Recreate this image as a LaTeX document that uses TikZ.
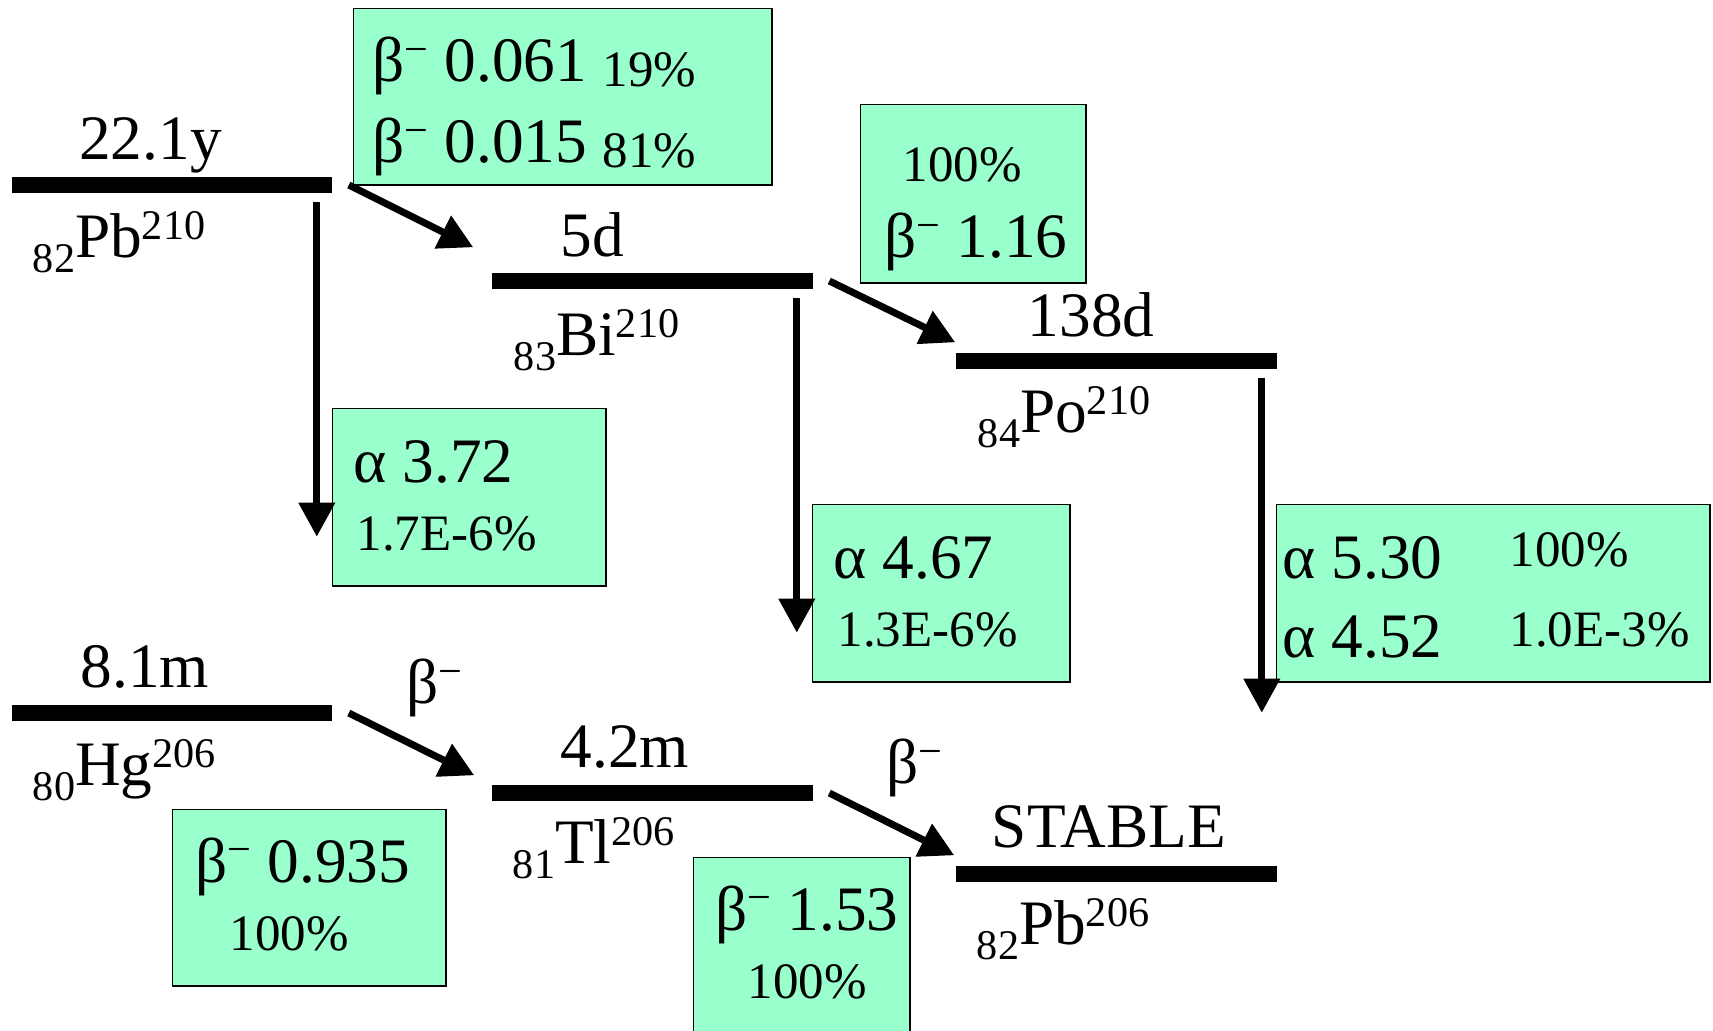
\documentclass[tikz,border=0pt]{standalone}
\usepackage{fontspec}
\setmainfont{Liberation Serif}
\usetikzlibrary{arrows.meta,calc}
\definecolor{mint}{RGB}{153,255,204}
\newcommand\bigfont{\fontsize{18}{21}\selectfont}
\newcommand\smallfont{\fontsize{14.5}{17}\selectfont}
\newcommand\subfont{\fontsize{12}{14}\selectfont}
\newcommand\betam{β\raisebox{5.2pt}{\subfont −}}
\newcommand\nuc[3]{\raisebox{-4.3pt}{\subfont #1}#2\raisebox{5.1pt}{\subfont #3}}

\begin{document}
\begin{tikzpicture}[x=0.01cm, y=0.01cm,
    level/.style={fill=black, inner sep=0pt, minimum width=3.2cm, minimum height=0.16cm},
    decay/.style={-{Triangle[length=0.34cm,width=0.35cm]}, line width=2pt},
    infobox/.style={draw, line width=0.4pt, fill=mint, inner sep=0pt, anchor=north west},
    big/.style={font=\bigfont, inner sep=0pt},
    small/.style={font=\smallfont, inner sep=0pt},
    declab/.style={midway, anchor=base west, xshift=-0.087cm, yshift=0.405cm, font=\bigfont, inner sep=0pt}]
    \useasboundingbox (0,0) rectangle (1713,1030);
    \clip (0,0) rectangle (1713,1030);

    % energy levels
    \node[level] (pbA) at (172,845) {};
    \node[level] (bi) at (652.5,749) {};
    \node[level] (po) at (1116.5,669) {};
    \node[level] (hg) at (172,317) {};
    \node[level] (tl) at (652.5,237) {};
    \node[level] (pbB) at (1116.5,156.5) {};

    % half lives
    \node[big, anchor=base] (tpbA) at ([shift={(-21.5,17)}]pbA.north) {22.1y};
    \node[big, anchor=base] (tbi) at ([shift={(-60.5,16)}]bi.north) {5d};
    \node[big, anchor=base] (tpo) at ([shift={(-25.5,16)}]po.north) {138d};
    \node[big, anchor=base] (thg) at ([shift={(-27,17)}]hg.north) {8.1m};
    \node[big, anchor=base] (ttl) at ([shift={(-27.5,17)}]tl.north) {4.2m};
    \node[big, anchor=base] (tpbB) at ([shift={(-7.5,17.5)}]pbB.north) {STABLE};

    % nuclides
    \node[big, anchor=base west] (npbA) at ([shift={(21,-64)}]pbA.south west) {\nuc{82}{Pb}{210}};
    \node[big, anchor=base west] (nbi) at ([shift={(21.5,-66)}]bi.south west) {\nuc{83}{Bi}{210}};
    \node[big, anchor=base west] (npo) at ([shift={(21.5,-63)}]po.south west) {\nuc{84}{Po}{210}};
    \node[big, anchor=base west] (nhg) at ([shift={(21,-64)}]hg.south west) {\nuc{80}{Hg}{206}};
    \node[big, anchor=base west] (ntl) at ([shift={(20.5,-62)}]tl.south west) {\nuc{81}{Tl}{206}};
    \node[big, anchor=base west] (npbB) at ([shift={(20.5,-62.5)}]pbB.south west) {\nuc{82}{Pb}{206}};

    % decay boxes
    \node[infobox, minimum width=4.18cm, minimum height=1.76cm] (b1) at (353,1022) {};
    \node[big, anchor=base west] (b1a) at ([shift={(19,-74)}]b1.north west) {\betam{} 0.061 \raisebox{-1.2pt}{\smallfont 19\%}};
    \node[big, anchor=base west] (b1b) at ([shift={(19,-155)}]b1.north west) {\betam{} 0.015 \raisebox{-1.2pt}{\smallfont 81\%}};

    \node[infobox, minimum width=2.25cm, minimum height=1.78cm] (b2) at (860,926) {};
    \node[small, anchor=base west] (b2a) at ([shift={(42,-78)}]b2.north west) {100\%};
    \node[big, anchor=base west] (b2b) at ([shift={(24,-154)}]b2.north west) {\betam{} 1.16};

    \node[infobox, minimum width=2.73cm, minimum height=1.77cm] (b3) at (332,622) {};
    \node[big, anchor=base west] (b3a) at ([shift={(21,-75)}]b3.north west) {α 3.72};
    \node[small, anchor=base west] (b3b) at ([shift={(24,-143)}]b3.north west) {1.7E-6\%};

    \node[infobox, minimum width=2.57cm, minimum height=1.77cm] (b4) at (812,526) {};
    \node[big, anchor=base west] (b4a) at ([shift={(21,-74)}]b4.north west) {α 4.67};
    \node[small, anchor=base west] (b4b) at ([shift={(25,-142)}]b4.north west) {1.3E-6\%};

    \node[infobox, minimum width=4.33cm, minimum height=1.77cm] (b5) at (1276,526) {};
    \node[big, anchor=base west] (b5a) at ([shift={(6,-74)}]b5.north west) {α 5.30};
    \node[small, anchor=base west] (b5b) at ([shift={(233,-62)}]b5.north west) {100\%};
    \node[big, anchor=base west] (b5c) at ([shift={(6,-153)}]b5.north west) {α 4.52};
    \node[small, anchor=base west] (b5d) at ([shift={(233,-142)}]b5.north west) {1.0E-3\%};

    \node[infobox, minimum width=2.73cm, minimum height=1.76cm] (b6) at (172,221) {};
    \node[big, anchor=base west] (b6a) at ([shift={(23,-73)}]b6.north west) {\betam{} 0.935};
    \node[small, anchor=base west] (b6b) at ([shift={(57,-141)}]b6.north west) {100\%};

    \node[infobox, minimum width=2.16cm, minimum height=2.1cm] (b7) at (693,173) {};
    \node[big, anchor=base west] (b7a) at ([shift={(22,-73)}]b7.north west) {\betam{} 1.53};
    \node[small, anchor=base west] (b7b) at ([shift={(54,-141)}]b7.north west) {100\%};

    % beta decays
    \draw[decay] ([shift={(16,0)}]pbA.east) -- ([shift={(-18.5,25)}]bi.north west);
    \draw[decay] ([shift={(16,0)}]bi.east) -- ([shift={(-0.5,10)}]po.north west);
    \draw[decay] ([shift={(16,0)}]hg.east) -- node[declab] (lhg) {\betam} ([shift={(-17.5,9)}]tl.north west);
    \draw[decay] ([shift={(16,0)}]tl.east) -- node[declab] (ltl) {\betam} ([shift={(-1.5,9.5)}]pbB.north west);

    % alpha decays
    \coordinate (pbAend) at ([shift={(-16,-343)}]pbA.south east);
    \coordinate (biend) at ([shift={(-16.5,-343)}]bi.south east);
    \coordinate (poend) at ([shift={(-15.5,-343)}]po.south east);
    \draw[decay] ([shift={(-16,-8)}]pbA.south east) -- (pbAend);
    \draw[decay] ([shift={(-16.5,-8)}]bi.south east) -- (biend);
    \draw[decay] ([shift={(-15.5,-8)}]po.south east) -- (poend);
\end{tikzpicture}
\end{document}
